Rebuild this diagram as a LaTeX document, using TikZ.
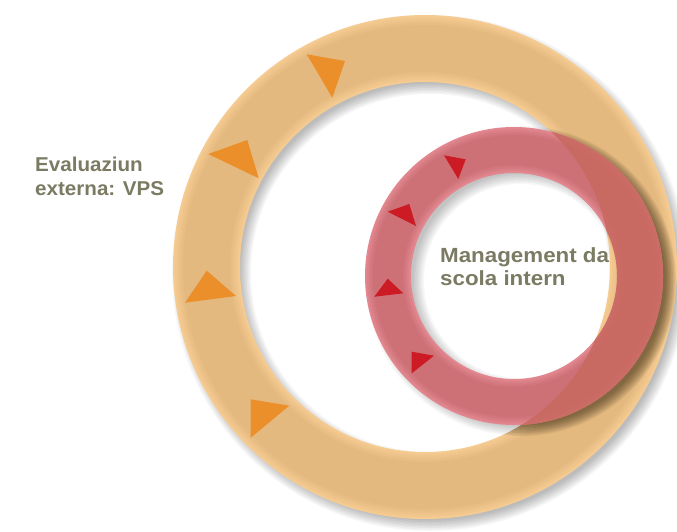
\documentclass[tikz,border=0pt]{standalone}
\usepackage{fontspec}
\usetikzlibrary{calc}
\setmainfont{Liberation Sans}
\newfontfamily\evalfont[FakeStretch=1.03]{Liberation Sans Bold}
\newfontfamily\mgmtfont[FakeStretch=1.09]{Liberation Sans Bold}
\definecolor{orangeLight}{HTML}{F5CB92}
\definecolor{orangeMid}{HTML}{E4B97F}
\definecolor{pinkLight}{HTML}{E2868F}
\definecolor{pinkMid}{HTML}{CD7177}
\definecolor{overlapRed}{HTML}{C8685F}
\definecolor{triOrange}{HTML}{EB8F2B}
\definecolor{triRed}{HTML}{CC1B24}
\definecolor{labelGray}{HTML}{7B7B63}
\definecolor{shadowBrown}{HTML}{3A2A10}
\tikzset{
  triO/.style={fill=triOrange, draw=none},
  triR/.style={fill=triRed, draw=none},
  label/.style={text=labelGray, inner sep=0pt, align=left, anchor=base west}
}
\begin{document}
\begin{tikzpicture}[x=1pt,y=-1pt]
\useasboundingbox (0,0) rectangle (677,531);
\fill[white] (0,0) rectangle (677,531);
\coordinate (oc) at (425,267);
\coordinate (rc) at (514,276);
\coordinate (ocs) at (430,273);
\coordinate (rcs) at (521,281);
% orange shadow
\foreach \k in {1,...,8}{
  \pgfmathsetmacro\w{55+3*\k}
  \draw[black, opacity=0.035, line width=\w pt] (ocs) circle[radius=218.5];
}
% orange ring
\foreach \k in {0,...,7}{
  \pgfmathtruncatemacro\p{min(100,\k*20)}
  \pgfmathsetmacro\w{67-4*\k}
  \draw[orangeMid!\p!orangeLight, line width=\w pt] (oc) circle[radius=218.5];
}
% red shadow (faint on white)
\foreach \k in {1,...,8}{
  \pgfmathsetmacro\w{34+3*\k}
  \draw[black, opacity=0.03, line width=\w pt] (rcs) circle[radius=126];
}
% red shadow (stronger on the orange ring)
\begin{scope}[even odd rule]
  \clip (oc) circle[radius=252] (oc) circle[radius=185];
  \foreach \k in {1,...,8}{
    \pgfmathsetmacro\w{34+3*\k}
    \draw[shadowBrown, opacity=0.05, line width=\w pt] (rcs) circle[radius=126];
  }
\end{scope}
% red ring
\foreach \k in {0,...,6}{
  \pgfmathtruncatemacro\p{min(100,\k*25)}
  \pgfmathsetmacro\w{46-4*\k}
  \draw[pinkMid!\p!pinkLight, line width=\w pt] (rc) circle[radius=126];
}
% overlap of red on orange
\begin{scope}[even odd rule]
  \clip (oc) circle[radius=252] (oc) circle[radius=185];
  \draw[overlapRed, opacity=0.85, line width=46pt] (rc) circle[radius=126];
\end{scope}
% orange triangles
\fill[triO] (306.7,54.3) -- (345,61) -- (332.3,97.7) -- cycle;
\fill[triO] (208.3,154) -- (247.3,140) -- (258.7,178.3) -- cycle;
\fill[triO] (206.7,270.7) -- (236,296) -- (185,302.7) -- cycle;
\fill[triO] (250.7,399.3) -- (289.3,405.7) -- (250.7,437.7) -- cycle;
% red triangles
\fill[triR] (444,155.3) -- (465.7,159.3) -- (458.3,179) -- cycle;
\fill[triR] (387.7,211.7) -- (409.3,204) -- (416,226) -- cycle;
\fill[triR] (374.3,296.7) -- (387.7,278.7) -- (403.3,293.3) -- cycle;
\fill[triR] (411.7,351.7) -- (434,355.7) -- (411.7,373.3) -- cycle;
% labels (base anchor = baseline of the last line)
\node[label, font=\evalfont\fontsize{20}{23.3}\selectfont] (ext) at (35,195) {Evaluaziun\\externa: VPS};
\node[label, font=\mgmtfont\fontsize{20.5}{22.7}\selectfont] (mgmt) at (440,285) {Management da\\scola intern};
\end{tikzpicture}
\end{document}
